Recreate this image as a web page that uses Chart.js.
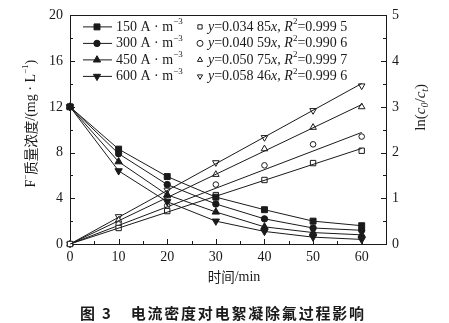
<!DOCTYPE html>
<html>
<head>
<meta charset="utf-8">
<script src="https://cdn.jsdelivr.net/npm/chart.js@4.4.1/dist/chart.umd.min.js"></script>
<style>
  html, body { margin: 0; padding: 0; background: #fff; }
  #wrap { position: relative; width: 449px; height: 323px; }
  #caption {
    position: absolute; left: 80px; top: 302px;
    font: bold 15px "Noto Sans CJK SC", sans-serif; color: #1a1a1a;
    letter-spacing: 1.8px; white-space: nowrap;
  }
  #caption .num { margin-right: 18px; }
</style>
</head>
<body>
<div id="wrap">
  <canvas id="chart" width="449" height="323"></canvas>
  <div id="caption"><span class="num">图 3</span>电流密度对电絮凝除氟过程影响</div>
</div>
<script>
// time, min
const times = [0, 10, 20, 30, 40, 50, 60];
const densities = ['150', '300', '450', '600'];

// F- concentration, mg/L (left axis)
const conc150 = [12.0, 8.3, 5.9, 4.1, 3.0, 2.0, 1.6];
const conc300 = [12.0, 7.9, 5.2, 3.5, 2.2, 1.4, 1.2];
const conc450 = [12.0, 7.2, 4.3, 2.8, 1.5, 1.0, 0.8];
const conc600 = [12.0, 6.4, 3.7, 2.0, 1.1, 0.6, 0.4];

// ln(c0/ct) (right axis)
const ln150 = [0, 0.35, 0.72, 1.07, 1.40, 1.77, 2.04];
const ln300 = [0, 0.43, 0.84, 1.30, 1.72, 2.18, 2.35];
const ln450 = [0, 0.52, 1.05, 1.52, 2.08, 2.55, 3.00];
const ln600 = [0, 0.60, 1.18, 1.78, 2.33, 2.92, 3.46];

// fitted lines through origin: value at t = 60
const fitEnd = [2.09, 2.44, 3.05, 3.51];
const slopes = ['0.034 85', '0.040 59', '0.050 75', '0.058 46'];
const r2 = ['0.999 5', '0.990 6', '0.999 7', '0.999 6'];

const ink = '#1a1a1a';
const serif = '"Liberation Serif", "Times New Roman", serif';
const cjk = '"Noto Sans CJK SC", sans-serif';

const styles = [
  { pointStyle: 'rect', rotation: 0, radius: 4.2 },
  { pointStyle: 'circle', rotation: 0, radius: 3.2 },
  { pointStyle: 'triangle', rotation: 0, radius: 4.2 },
  { pointStyle: 'triangle', rotation: 180, radius: 4.2 }
];
const concs = [conc150, conc300, conc450, conc600];
const lns = [ln150, ln300, ln450, ln600];

const pts = (ys) => times.map((t, i) => ({ x: t, y: ys[i] }));

const datasets = [];
concs.forEach((c, i) => {
  datasets.push({
    data: pts(c), yAxisID: 'y', showLine: true,
    borderColor: ink, borderWidth: 1,
    pointStyle: styles[i].pointStyle, rotation: styles[i].rotation,
    pointRadius: styles[i].radius,
    pointBackgroundColor: ink, pointBorderColor: ink, pointBorderWidth: 1,
    clip: false
  });
});
lns.forEach((l, i) => {
  datasets.push({
    data: [{ x: 0, y: 0 }, { x: 60, y: fitEnd[i] }], yAxisID: 'y1', showLine: true,
    borderColor: ink, borderWidth: 1, pointRadius: 0, clip: false
  });
  datasets.push({
    data: pts(l), yAxisID: 'y1', showLine: false,
    pointStyle: styles[i].pointStyle, rotation: styles[i].rotation,
    pointRadius: styles[i].radius - 0.4,
    pointBackgroundColor: '#fff', pointBorderColor: ink, pointBorderWidth: 1,
    clip: false
  });
});

function drawRuns(ctx, runs, x, y) {
  for (const r of runs) {
    ctx.font = r.f;
    ctx.fillText(r.t, x, y + (r.dy || 0));
    x += ctx.measureText(r.t).width;
  }
  return x;
}
function runsWidth(ctx, runs) {
  let w = 0;
  for (const r of runs) { ctx.font = r.f; w += ctx.measureText(r.t).width; }
  return w;
}

const reg = '14px ' + serif, ital = 'italic 14px ' + serif, sup = '9px ' + serif;

// frame and inward ticks
const frame = {
  id: 'frame',
  beforeDatasetsDraw(chart) {
    const ctx = chart.ctx, a = chart.chartArea;
    const sx = chart.scales.x, sy = chart.scales.y, sy1 = chart.scales.y1;
    ctx.save();
    ctx.strokeStyle = ink;
    ctx.lineWidth = 1;
    ctx.strokeRect(Math.round(a.left) + 0.5, Math.round(a.top) + 0.5,
      Math.round(a.right - a.left), Math.round(a.bottom - a.top));
    const tickSet = (scale, minor) => {
      const vals = scale.ticks.map(t => t.value);
      const out = vals.map(v => ({ v, len: 5 }));
      for (let i = 0; i < vals.length - 1; i++) out.push({ v: (vals[i] + vals[i + 1]) / 2, len: 3 });
      return out;
    };
    ctx.beginPath();
    for (const t of tickSet(sx)) {
      const px = Math.round(sx.getPixelForValue(t.v)) + 0.5;
      ctx.moveTo(px, a.bottom); ctx.lineTo(px, a.bottom - t.len);
    }
    for (const t of tickSet(sy)) {
      const py = Math.round(sy.getPixelForValue(t.v)) + 0.5;
      ctx.moveTo(a.left, py); ctx.lineTo(a.left + t.len, py);
    }
    for (const t of tickSet(sy1)) {
      const py = Math.round(sy1.getPixelForValue(t.v)) + 0.5;
      ctx.moveTo(a.right, py); ctx.lineTo(a.right - t.len, py);
    }
    ctx.stroke();
    ctx.restore();
  }
};

// legend and axis titles
const labels = {
  id: 'labels',
  afterDraw(chart) {
    const ctx = chart.ctx, a = chart.chartArea;
    ctx.save();
    ctx.fillStyle = ink;
    ctx.strokeStyle = ink;
    ctx.textBaseline = 'middle';
    ctx.textAlign = 'left';

    for (let i = 0; i < 4; i++) {
      const y = a.top + 11.5 + i * 16.5;
      ctx.lineWidth = 1;
      ctx.beginPath();
      ctx.moveTo(a.left + 13, y); ctx.lineTo(a.left + 42, y);
      ctx.stroke();
      ctx.fillStyle = ink;
      Chart.helpers.drawPoint(ctx, { pointStyle: styles[i].pointStyle, rotation: styles[i].rotation,
        radius: styles[i].radius, borderWidth: 1 }, a.left + 27, y);
      drawRuns(ctx, [
        { t: densities[i] + ' A · m', f: reg },
        { t: '−3', f: sup, dy: -5 }
      ], a.left + 46, y);
      ctx.fillStyle = '#fff';
      Chart.helpers.drawPoint(ctx, { pointStyle: styles[i].pointStyle, rotation: styles[i].rotation,
        radius: 3, borderWidth: 1 }, a.left + 130, y);
      ctx.fillStyle = ink;
      drawRuns(ctx, [
        { t: 'y', f: ital }, { t: '=' + slopes[i], f: reg }, { t: 'x', f: ital },
        { t: ', ', f: reg }, { t: 'R', f: ital }, { t: '2', f: sup, dy: -5 },
        { t: '=' + r2[i], f: reg }
      ], a.left + 138, y);
    }

    // left title
    const leftRuns = [
      { t: 'F', f: reg }, { t: '−', f: sup, dy: -5 },
      { t: '质量浓度', f: '13.5px ' + cjk },
      { t: '/(mg · L', f: reg }, { t: '−1', f: sup, dy: -5 }, { t: ')', f: reg }
    ];
    ctx.save();
    ctx.translate(31, (a.top + a.bottom) / 2 - 6);
    ctx.rotate(-Math.PI / 2);
    drawRuns(ctx, leftRuns, -runsWidth(ctx, leftRuns) / 2, 0);
    ctx.restore();

    // right title
    const rightRuns = [
      { t: 'ln(', f: '15px ' + serif }, { t: 'c', f: 'italic 15px ' + serif },
      { t: '0', f: 'italic 10px ' + serif, dy: 4 }, { t: '/', f: '15px ' + serif },
      { t: 'c', f: 'italic 15px ' + serif }, { t: 't', f: 'italic 10px ' + serif, dy: 4 },
      { t: ')', f: '15px ' + serif }
    ];
    ctx.save();
    ctx.translate(a.right + 35, a.top + 92);
    ctx.rotate(-Math.PI / 2);
    drawRuns(ctx, rightRuns, -runsWidth(ctx, rightRuns) / 2, 0);
    ctx.restore();

    // bottom title
    const botRuns = [{ t: '时间', f: '13.5px ' + cjk }, { t: '/min', f: reg }];
    drawRuns(ctx, botRuns, (a.left + a.right) / 2 + 6 - runsWidth(ctx, botRuns) / 2, a.bottom + 33);

    ctx.restore();
  }
};

new Chart(document.getElementById('chart'), {
  type: 'scatter',
  data: { datasets },
  options: {
    responsive: false,
    animation: false,
    events: [],
    layout: { autoPadding: false, padding: { top: 14, left: 0, right: 0, bottom: 0 } },
    plugins: { legend: { display: false }, tooltip: { enabled: false } },
    scales: {
      x: {
        type: 'linear', min: 0, max: 65,
        afterFit: (s) => { s.height = 79; },
        grid: { display: false, drawTicks: false }, border: { display: false },
        ticks: { stepSize: 10, includeBounds: false, padding: 5, color: ink, font: { family: serif, size: 14 }, maxRotation: 0 }
      },
      y: {
        position: 'left', min: 0, max: 20,
        afterFit: (s) => { s.width = 70; },
        grid: { display: false, drawTicks: false }, border: { display: false },
        ticks: { stepSize: 4, padding: 7, color: ink, font: { family: serif, size: 14 } }
      },
      y1: {
        position: 'right', min: 0, max: 5,
        afterFit: (s) => { s.width = 63; },
        grid: { display: false, drawTicks: false }, border: { display: false },
        ticks: { stepSize: 1, padding: 6, color: ink, font: { family: serif, size: 14 } }
      }
    }
  },
  plugins: [frame, labels]
});
</script>
</body>
</html>
